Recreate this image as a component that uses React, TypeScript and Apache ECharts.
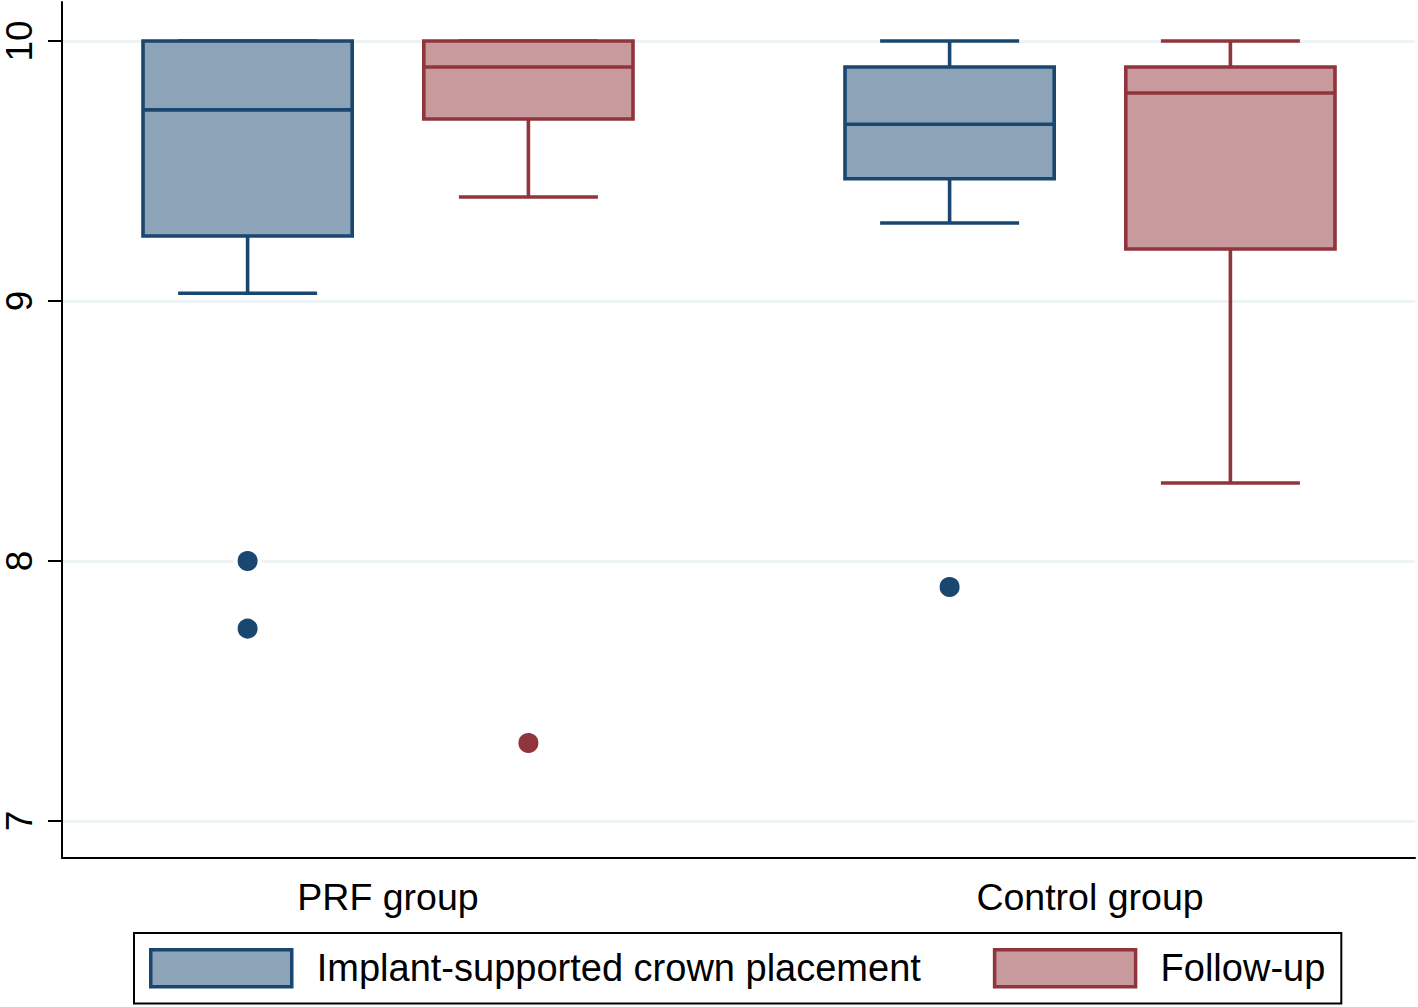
import React, { useEffect, useRef } from "react";
import * as echarts from "echarts";

// ---- data ----
const categories = ["PRF group", "Control group"];
const seriesNames = ["Implant-supported crown placement", "Follow-up"];
// [lowerWhisker, Q1, median, Q3, upperWhisker]
const implantStats = [
  [9.03, 9.25, 9.735, 10, 10],
  [9.3, 9.47, 9.68, 9.9, 10],
];
const followStats = [
  [9.4, 9.7, 9.9, 10, 10],
  [8.3, 9.2, 9.8, 9.9, 10],
];
// [categoryIndex, value]
const implantOutliers = [
  [0, 8.0],
  [0, 7.74],
  [1, 7.9],
];
const followOutliers = [[0, 7.3]];
const yTicks = [7, 8, 9, 10];

// ---- style ----
const FONT = "'Liberation Sans', Arial, sans-serif";
const BLUE_FILL = "#8DA3B8";
const BLUE_LINE = "#1A476F";
const RED_FILL = "#C99A9D";
const RED_LINE = "#90353B";
const OFFSET = 0.2;
const BOX_W = 0.298;
const CAP_W = 0.198;
const LW = 3.6;

function boxData(stats: number[][], off: number) {
  return stats.map((s, i) => [i + 1 + off, ...s]);
}
function outlierData(pts: number[][], off: number) {
  return pts.map((p) => [p[0] + 1 + off, p[1]]);
}

function makeRender(fill: string, stroke: string) {
  return (params: any, api: any) => {
    const x = api.value(0);
    const lo = api.value(1);
    const q1 = api.value(2);
    const med = api.value(3);
    const q3 = api.value(4);
    const hi = api.value(5);
    const c = api.coord([x, med]);
    const l = api.coord([x - BOX_W / 2, q3]);
    const r = api.coord([x + BOX_W / 2, q1]);
    const cl = api.coord([x - CAP_W / 2, hi]);
    const cr = api.coord([x + CAP_W / 2, lo]);
    const yHi = api.coord([x, hi])[1];
    const yLo = api.coord([x, lo])[1];
    const ls = { stroke, lineWidth: LW, fill: null };
    return {
      type: "group",
      children: [
        { type: "line", shape: { x1: c[0], y1: l[1], x2: c[0], y2: yHi }, style: ls },
        { type: "line", shape: { x1: c[0], y1: r[1], x2: c[0], y2: yLo }, style: ls },
        { type: "line", shape: { x1: cl[0], y1: yHi, x2: cr[0], y2: yHi }, style: ls },
        { type: "line", shape: { x1: cl[0], y1: yLo, x2: cr[0], y2: yLo }, style: ls },
        {
          type: "rect",
          shape: { x: l[0], y: l[1], width: r[0] - l[0], height: r[1] - l[1] },
          style: { fill, stroke, lineWidth: LW },
        },
        { type: "line", shape: { x1: l[0], y1: c[1], x2: r[0], y2: c[1] }, style: ls },
      ],
    };
  };
}

export default function App() {
  const ref = useRef<HTMLDivElement>(null);
  useEffect(() => {
    document.body.style.margin = "0";
    const chart = echarts.init(ref.current!, null, { renderer: "svg" });
    const option: any = {
      animation: false,
      backgroundColor: "#fff",
      textStyle: { fontFamily: FONT },
      grid: { left: 62, right: 3, top: 2, bottom: 149, containLabel: false, outerBoundsMode: "none" },
      xAxis: {
        type: "value",
        min: 1 - 326 / 702,
        max: 2 + 325 / 702,
        splitLine: { show: false },
        axisTick: { show: false },
        axisLine: { show: true, onZero: false, lineStyle: { color: "#000", width: 2 } },
        axisLabel: {
          customValues: [1, 2],
          formatter: (v: number) => categories[Math.round(v) - 1] ?? "",
          fontSize: 37.5,
          color: "#000",
          fontFamily: FONT,
          margin: 20,
        },
      },
      yAxis: {
        type: "value",
        min: 7 - 37 / 260,
        max: 10 + 39 / 260,
        axisLine: { show: true, onZero: false, lineStyle: { color: "#000", width: 2 } },
        axisTick: {
          show: true,
          customValues: yTicks,
          length: 14,
          lineStyle: { color: "#000", width: 2 },
        },
        axisLabel: {
          customValues: yTicks,
          rotate: 90,
          fontSize: 37,
          lineHeight: 36,
          color: "#000",
          fontFamily: FONT,
          margin: 25,
        },
        splitLine: { show: true, lineStyle: { color: "#EAF2F3", width: 2.5 } },
      },
      legend: {
        left: 134,
        top: 933,
        orient: "horizontal",
        itemWidth: 141,
        itemHeight: 37,
        itemGap: 72,
        padding: [15, 16, 15, 15],
        borderColor: "#000",
        borderWidth: 2,
        icon: "rect",
        textStyle: { fontSize: 38, color: "#000", fontFamily: FONT, padding: [0, 0, 0, 20] },
        data: [
          { name: seriesNames[0], itemStyle: { color: BLUE_FILL, borderColor: BLUE_LINE, borderWidth: 3.5 } },
          { name: seriesNames[1], itemStyle: { color: RED_FILL, borderColor: RED_LINE, borderWidth: 3.5 } },
        ],
      },
      series: [
        {
          name: seriesNames[0],
          type: "custom",
          itemStyle: { color: BLUE_FILL },
          renderItem: makeRender(BLUE_FILL, BLUE_LINE),
          encode: { x: 0, y: [1, 2, 3, 4, 5] },
          data: boxData(implantStats, -OFFSET),
          z: 2,
        },
        {
          name: seriesNames[1],
          type: "custom",
          itemStyle: { color: RED_FILL },
          renderItem: makeRender(RED_FILL, RED_LINE),
          encode: { x: 0, y: [1, 2, 3, 4, 5] },
          data: boxData(followStats, OFFSET),
          z: 2,
        },
        {
          name: seriesNames[0],
          type: "scatter",
          symbolSize: 24,
          itemStyle: { color: BLUE_LINE, opacity: 1, borderColor: "#fff", borderWidth: 4 },
          data: outlierData(implantOutliers, -OFFSET),
          z: 3,
        },
        {
          name: seriesNames[1],
          type: "scatter",
          symbolSize: 24,
          itemStyle: { color: RED_LINE, opacity: 1, borderColor: "#fff", borderWidth: 4 },
          data: outlierData(followOutliers, OFFSET),
          z: 3,
        },
      ],
    };
    chart.setOption(option);
    return () => chart.dispose();
  }, []);
  return <div ref={ref} style={{ width: 1418, height: 1007 }} />;
}
